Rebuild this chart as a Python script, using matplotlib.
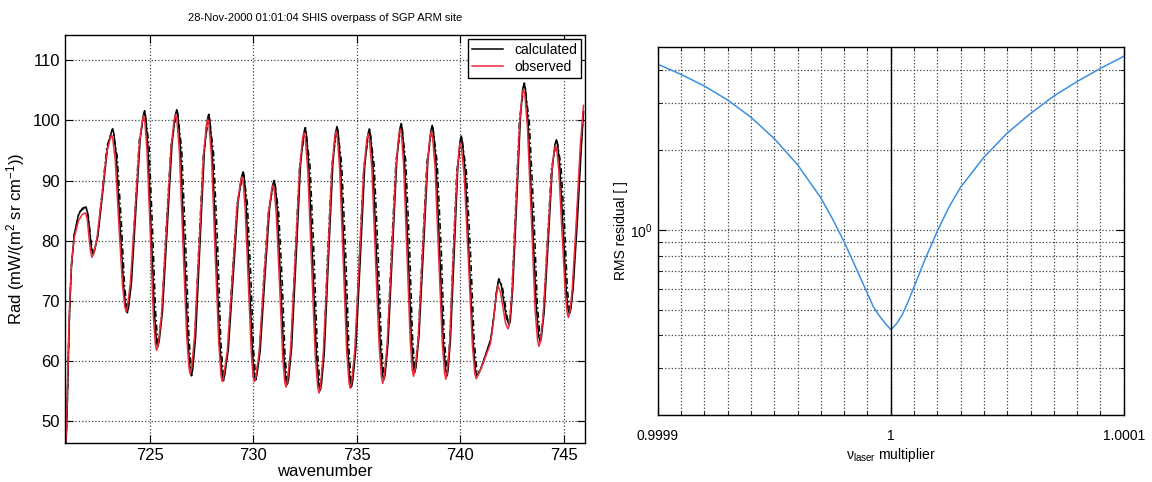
import numpy as np
import matplotlib
matplotlib.use('Agg')
import matplotlib.pyplot as plt
import matplotlib as mpl

plt.rcParams['font.family'] = ['Liberation Sans', 'DejaVu Sans']
plt.rcParams['mathtext.default'] = 'regular'

# ---- left panel: radiance spectrum ----
obs_x = [720.95, 721.00, 721.06, 721.13, 721.22, 721.35, 721.55, 721.75,
         721.90, 721.98, 722.05, 722.13, 722.20, 722.28, 722.44, 722.68, 722.91, 723.08,
         723.15, 723.21, 723.33, 723.50, 723.68, 723.79, 723.85, 723.92, 724.06, 724.28, 724.49, 724.63,
         724.70, 724.76, 724.86, 725.02, 725.17, 725.27, 725.33, 725.40, 725.56, 725.79, 726.02, 726.17,
         726.25, 726.31, 726.43, 726.60, 726.78, 726.89, 726.95, 727.02, 727.16, 727.38, 727.59, 727.73,
         727.80, 727.86, 727.98, 728.15, 728.33, 728.44, 728.50, 728.57, 728.74, 728.98, 729.21, 729.38,
         729.45, 729.51, 729.60, 729.75, 729.90, 729.99, 730.05, 730.12, 730.28, 730.50, 730.73, 730.88,
         730.95, 731.01, 731.11, 731.27, 731.42, 731.52, 731.58, 731.65, 731.80, 732.02, 732.23, 732.38,
         732.45, 732.51, 732.63, 732.81, 732.99, 733.11, 733.17, 733.24, 733.38, 733.59, 733.79, 733.93,
         734.00, 734.06, 734.17, 734.34, 734.51, 734.62, 734.68, 734.75, 734.90, 735.12, 735.33, 735.48,
         735.55, 735.61, 735.73, 735.90, 736.08, 736.19, 736.25, 736.32, 736.46, 736.68, 736.89, 737.03,
         737.10, 737.16, 737.26, 737.42, 737.58, 737.68, 737.74, 737.81, 737.96, 738.17, 738.39, 738.53,
         738.60, 738.66, 738.78, 738.95, 739.13, 739.24, 739.30, 739.36, 739.48, 739.65, 739.83, 739.94,
         740.00, 740.06, 740.19, 740.39, 740.58, 740.70, 740.77, 740.95, 741.20, 741.45,
         741.60, 741.72, 741.82, 741.94, 742.06, 742.18, 742.30, 742.36, 742.49,
         742.68, 742.86, 742.98, 743.05, 743.12, 743.24, 743.43, 743.61, 743.73, 743.80, 743.87, 744.00,
         744.20, 744.40, 744.53, 744.60, 744.66, 744.76, 744.91, 745.07, 745.16, 745.22, 745.29, 745.40,
         745.60, 745.80, 745.95]
obs_y = [46.5, 53.0, 62.0, 70.0, 76.5, 80.5, 83.3, 84.4,
         84.6, 83.5, 80.9, 78.3, 77.2, 77.7, 80.2, 87.4, 94.6, 96.9,
         97.6, 96.9, 93.3, 82.9, 72.5, 69.0, 68.2, 69.0, 73.0, 84.5, 96.0, 99.8,
         100.8, 99.8, 95.1, 81.3, 67.4, 62.6, 61.7, 62.6, 67.4, 81.4, 95.3, 100.0,
         101.0, 100.0, 94.7, 79.4, 64.1, 58.8, 57.8, 58.8, 64.0, 79.0, 94.0, 99.2,
         100.2, 99.2, 93.8, 78.4, 62.9, 57.5, 56.5, 57.5, 61.5, 73.6, 85.6, 89.8,
         90.6, 89.8, 85.6, 73.6, 61.5, 57.3, 56.5, 57.3, 61.3, 72.9, 84.4, 88.4,
         89.2, 88.4, 84.3, 72.4, 60.5, 56.4, 55.6, 56.6, 61.8, 76.8, 91.8, 97.0,
         98.0, 97.0, 91.7, 76.3, 60.9, 55.6, 54.6, 55.6, 61.0, 76.4, 91.8, 97.2,
         98.2, 97.2, 92.0, 76.8, 61.6, 56.4, 55.4, 56.4, 61.6, 76.6, 91.6, 96.8,
         97.8, 96.8, 91.7, 77.0, 62.3, 57.2, 56.2, 57.2, 62.4, 77.4, 92.4, 97.6,
         98.6, 97.6, 92.6, 78.0, 63.4, 58.4, 57.4, 58.4, 63.4, 77.8, 92.2, 97.2,
         98.2, 97.2, 92.2, 77.6, 62.9, 57.9, 56.9, 57.9, 62.7, 76.6, 90.5, 95.3,
         96.3, 95.3, 90.6, 76.7, 62.7, 57.8, 57.0, 58.3, 60.5, 62.8,
         66.5, 70.5, 72.5, 71.4, 68.9, 66.3, 65.3, 65.8, 71.1,
         85.3, 99.4, 104.2, 105.2, 104.2, 99.0, 83.8, 68.6, 63.4, 62.4, 63.2, 67.3,
         79.1, 90.9, 95.0, 95.8, 95.0, 91.6, 81.5, 71.4, 68.0, 67.2, 68.0, 71.5,
         83.0, 96.0, 102.5]

calc_x = [720.95, 721.00, 721.06, 721.13, 721.22, 721.35, 721.55, 721.75,
          721.92, 722.00, 722.09, 722.17, 722.25, 722.32, 722.49, 722.73, 722.96, 723.13,
          723.20, 723.26, 723.38, 723.55, 723.73, 723.84, 723.90, 723.97, 724.11, 724.32, 724.53, 724.67,
          724.74, 724.80, 724.90, 725.06, 725.22, 725.32, 725.38, 725.45, 725.61, 725.84, 726.07, 726.22,
          726.30, 726.36, 726.48, 726.65, 726.83, 726.94, 727.00, 727.07, 727.21, 727.42, 727.63, 727.77,
          727.84, 727.90, 728.02, 728.20, 728.37, 728.49, 728.55, 728.62, 728.79, 729.03, 729.26, 729.43,
          729.50, 729.56, 729.65, 729.80, 729.95, 730.04, 730.10, 730.17, 730.33, 730.55, 730.78, 730.93,
          731.00, 731.06, 731.16, 731.32, 731.47, 731.57, 731.63, 731.70, 731.85, 732.07, 732.28, 732.43,
          732.50, 732.56, 732.68, 732.86, 733.04, 733.16, 733.22, 733.29, 733.43, 733.63, 733.84, 733.97,
          734.04, 734.10, 734.21, 734.39, 734.56, 734.67, 734.73, 734.80, 734.95, 735.17, 735.38, 735.53,
          735.60, 735.66, 735.78, 735.95, 736.13, 736.24, 736.30, 736.37, 736.51, 736.72, 736.93, 737.07,
          737.14, 737.20, 737.30, 737.47, 737.63, 737.73, 737.79, 737.86, 738.00, 738.22, 738.43, 738.57,
          738.64, 738.70, 738.82, 739.00, 739.17, 739.29, 739.35, 739.41, 739.52, 739.70, 739.87, 739.98,
          740.04, 740.10, 740.23, 740.42, 740.61, 740.73, 740.80, 740.98, 741.22, 741.47,
          741.62, 741.75, 741.85, 741.98, 742.10, 742.23, 742.35, 742.41, 742.53,
          742.72, 742.90, 743.01, 743.08, 743.15, 743.27, 743.47, 743.66, 743.78, 743.85, 743.92, 744.05,
          744.25, 744.44, 744.57, 744.64, 744.70, 744.80, 744.96, 745.11, 745.20, 745.27, 745.34, 745.45,
          745.65, 745.83, 745.95]
calc_y = [46.0, 51.0, 60.0, 69.0, 76.0, 81.0, 84.3, 85.4,
          85.6, 84.5, 81.7, 78.9, 77.8, 78.2, 80.8, 88.2, 95.6, 97.9,
          98.6, 97.9, 94.1, 83.3, 72.5, 68.8, 68.0, 68.8, 72.9, 84.8, 96.7, 100.6,
          101.6, 100.6, 95.9, 82.0, 68.0, 63.2, 62.3, 63.2, 68.1, 82.1, 96.0, 100.8,
          101.8, 100.8, 95.3, 79.7, 64.0, 58.5, 57.5, 58.5, 63.9, 79.3, 94.6, 100.0,
          101.0, 100.0, 94.5, 78.9, 63.2, 57.7, 56.7, 57.7, 61.8, 74.1, 86.3, 90.6,
          91.4, 90.6, 86.3, 74.1, 61.9, 57.6, 56.8, 57.6, 61.6, 73.4, 85.2, 89.2,
          90.0, 89.2, 85.0, 73.0, 61.0, 56.8, 56.0, 56.8, 62.2, 77.4, 92.6, 97.8,
          98.8, 97.8, 92.4, 76.9, 61.4, 56.0, 55.0, 56.0, 61.4, 77.0, 92.6, 98.0,
          99.0, 98.0, 92.7, 77.3, 61.9, 56.6, 55.6, 56.6, 61.9, 77.1, 92.3, 97.6,
          98.6, 97.6, 92.5, 77.7, 62.9, 57.8, 56.8, 57.8, 63.0, 78.2, 93.3, 98.5,
          99.5, 98.5, 93.4, 78.8, 64.1, 59.0, 58.0, 59.0, 64.0, 78.6, 93.2, 98.2,
          99.2, 98.2, 93.1, 78.4, 63.6, 58.5, 57.5, 58.5, 63.3, 77.5, 91.6, 96.4,
          97.4, 96.4, 91.6, 77.5, 63.3, 58.3, 57.5, 58.6, 61.0, 63.6,
          67.4, 71.5, 73.6, 72.5, 69.8, 67.1, 66.0, 66.5, 71.9,
          86.1, 100.3, 105.2, 106.2, 105.2, 99.9, 84.7, 69.5, 64.2, 63.2, 64.0, 68.1,
          80.0, 91.9, 96.0, 96.8, 96.0, 92.6, 82.3, 72.0, 68.6, 67.8, 68.6, 72.0,
          83.0, 94.5, 101.5]

# third (dash-dot) model curve, broader peaks
alt_x = [720.95, 721.02, 721.10, 721.20, 721.35, 721.60, 721.90,
         722.03, 722.12, 722.20, 722.27, 722.48, 722.70, 722.92, 723.20,
         723.42, 723.62, 723.78, 723.92, 724.09, 724.28, 724.49, 724.76,
         724.96, 725.13, 725.28, 725.40, 725.58, 725.79, 726.03, 726.32,
         726.54, 726.73, 726.89, 727.02, 727.18, 727.37, 727.59, 727.86,
         728.08, 728.28, 728.43, 728.57, 728.76, 728.98, 729.22, 729.52,
         729.71, 729.88, 730.01, 730.12, 730.30, 730.50, 730.74, 731.02,
         731.22, 731.40, 731.53, 731.65, 731.82, 732.02, 732.24, 732.52,
         732.74, 732.94, 733.10, 733.24, 733.40, 733.58, 733.80, 734.06,
         734.27, 734.47, 734.62, 734.75, 734.92, 735.12, 735.34, 735.62,
         735.84, 736.03, 736.19, 736.32, 736.48, 736.67, 736.89, 737.16,
         737.36, 737.55, 737.69, 737.81, 737.97, 738.17, 738.39, 738.66,
         738.88, 739.08, 739.23, 739.37, 739.49, 739.65, 739.83, 740.06,
         740.29, 740.50, 740.67, 740.82, 741.00, 741.24, 741.48, 741.62, 741.75, 741.87,
         742.02, 742.15, 742.27, 742.37, 742.50, 742.68, 742.86, 743.10,
         743.33, 743.55, 743.72, 743.87, 744.02, 744.21, 744.40, 744.66,
         744.86, 745.04, 745.17, 745.29, 745.43, 745.62, 745.80, 745.95]
alt_y = [46.0, 54.0, 66.0, 75.5, 81.0, 84.8, 85.6,
         84.0, 81.2, 78.6, 77.8, 80.8, 88.2, 95.6, 98.6,
         94.1, 83.3, 72.5, 68.0, 72.9, 84.8, 96.7, 101.6,
         95.9, 82.0, 68.0, 62.3, 68.1, 82.1, 96.0, 101.8,
         95.3, 79.7, 64.0, 57.5, 63.9, 79.3, 94.6, 101.0,
         94.5, 78.9, 63.2, 56.7, 61.8, 74.1, 86.3, 91.4,
         86.3, 74.1, 61.9, 56.8, 61.6, 73.4, 85.2, 90.0,
         85.0, 73.0, 61.0, 56.0, 62.2, 77.4, 92.6, 98.8,
         92.4, 76.9, 61.4, 55.0, 61.4, 77.0, 92.6, 99.0,
         92.7, 77.3, 61.9, 55.6, 61.9, 77.1, 92.3, 98.6,
         92.5, 77.7, 62.9, 56.8, 63.0, 78.2, 93.3, 99.5,
         93.4, 78.8, 64.1, 58.0, 64.0, 78.6, 93.2, 99.2,
         93.1, 78.4, 63.6, 57.5, 63.3, 77.5, 91.6, 97.4,
         91.6, 77.5, 63.3, 57.5, 58.6, 61.0, 63.6, 67.4, 71.5, 73.6,
         72.5, 69.8, 67.1, 66.0, 71.9, 86.1, 100.3, 106.2,
         99.9, 84.7, 69.5, 63.2, 68.1, 80.0, 91.9, 96.8,
         92.6, 82.3, 72.0, 67.8, 72.0, 83.0, 94.5, 101.5]

# ---- right panel: RMS residual vs laser multiplier ----
laser_mult = [0.99990, 0.99991, 0.99992, 0.99993, 0.99994, 0.99995,
              0.99996, 0.99997, 0.999975, 0.99998, 0.999985, 0.99999,
              0.9999925, 0.999995, 0.9999975, 1.0, 1.0000025, 1.000005,
              1.0000075, 1.00001, 1.000015, 1.00002, 1.000025, 1.00003,
              1.00004, 1.00005, 1.00006, 1.00007, 1.00008, 1.00009, 1.0001]
rms_resid = [4.22, 3.86, 3.49, 3.09, 2.66, 2.21,
             1.76, 1.32, 1.10, 0.90, 0.72, 0.575,
             0.513, 0.475, 0.445, 0.42, 0.442, 0.479,
             0.537, 0.61, 0.785, 0.99, 1.22, 1.45,
             1.88, 2.32, 2.75, 3.2, 3.63, 4.07, 4.52]
mult_ticks = [0.9999, 1.0, 1.0001]
mult_labels = ['0.9999', '1', '1.0001']


def ax_format(ax):
    ax.tick_params(which='major', direction='in', length=6, width=0.8,
                   top=True, right=True)
    ax.tick_params(which='minor', direction='in', length=3, width=0.6,
                   top=True, right=True)
    for s in ax.spines.values():
        s.set_linewidth(1.0)


fig = plt.figure(figsize=(11.52, 4.82), dpi=100)

ax1 = fig.add_axes([0.0564, 0.081, 0.451, 0.846])
ax_format(ax1)
ax1.plot(alt_x, alt_y, color='black', linewidth=1.1,
         linestyle=(0, (4, 2, 1, 2)))
ax1.plot(calc_x, calc_y, '-', color='black', linewidth=1.1, label='calculated')
ax1.plot(obs_x, obs_y, '-', color='#ee2a3a', linewidth=1.1, label='observed')
ax1.set_xlim(720.9, 746.0)
ax1.set_ylim(46.3, 114.2)
ax1.xaxis.set_major_locator(mpl.ticker.MultipleLocator(5))
ax1.yaxis.set_major_locator(mpl.ticker.MultipleLocator(10))
ax1.tick_params(labelsize=12)
ax1.grid(True, linestyle=':', color='#444444', linewidth=0.9)
ax1.set_xlabel('wavenumber', fontsize=12, labelpad=1)
ax1.set_ylabel('Rad (mW/(m$^2$ sr cm$^{-1}$))', fontsize=12, labelpad=4)
ax1.set_title('28-Nov-2000 01:01:04 SHIS overpass of SGP ARM site',
              fontsize=8, pad=10)
leg = ax1.legend(loc='upper right', fontsize=10, fancybox=False,
                 framealpha=1, edgecolor='black', borderaxespad=0.25,
                 handlelength=2.2, borderpad=0.3, labelspacing=0.2)
leg.get_frame().set_linewidth(1.0)

ax2 = fig.add_axes([0.571, 0.139, 0.4045, 0.7635])
ax_format(ax2)
ax2.set_yscale('log')
ax2.plot(laser_mult, rms_resid, '-', color='#3d8fdf', linewidth=1.1)
ax2.axvline(1.0, color='black', linewidth=1.0)
ax2.set_xlim(0.9999, 1.0001)
ax2.set_ylim(0.2, 4.9)
ax2.set_xticks(mult_ticks, labels=mult_labels)
ax2.xaxis.set_minor_locator(mpl.ticker.MultipleLocator(1e-5))
ax2.yaxis.set_minor_formatter(mpl.ticker.NullFormatter())
ax2.tick_params(labelsize=10)
ax2.tick_params(axis='x', pad=10)
ax2.grid(True, which='both', linestyle=':', color='#444444', linewidth=0.9)
ax2.set_xlabel('\u03bd$_{laser}$ multiplier', fontsize=10, labelpad=2)
ax2.set_ylabel('RMS residual [ ]', fontsize=10, labelpad=2)

plt.savefig('out.png', dpi=100)
